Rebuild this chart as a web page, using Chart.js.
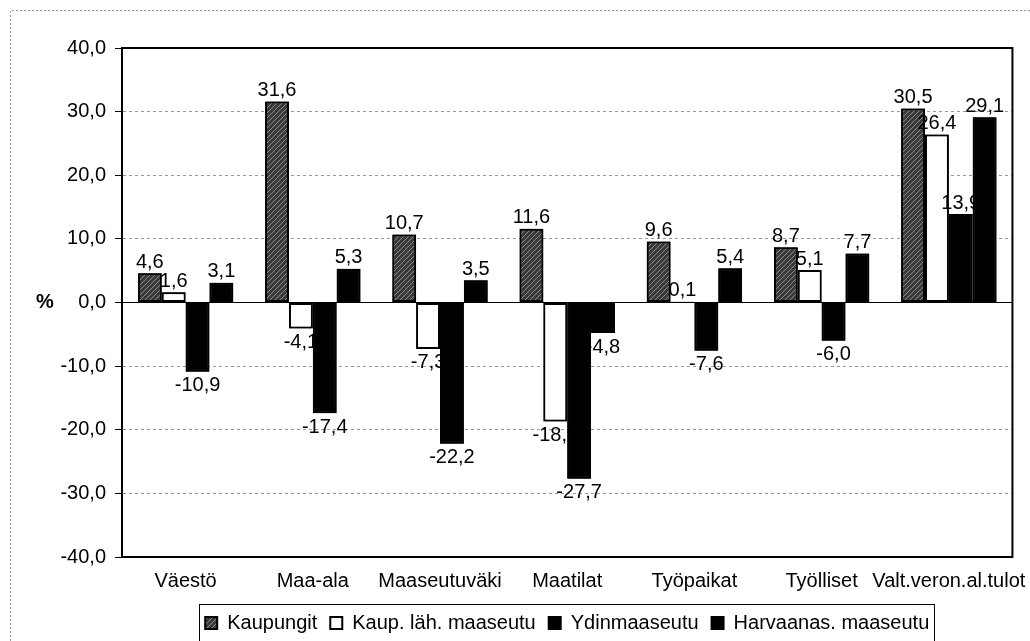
<!DOCTYPE html>
<html>
<head>
<meta charset="utf-8">
<script src="https://cdn.jsdelivr.net/npm/chart.js@4/dist/chart.umd.min.js"></script>
<style>
  html, body { margin: 0; padding: 0; background: #fff; }
  #wrap { width: 1030px; height: 641px; }
</style>
</head>
<body>
<div id="wrap"><canvas id="chart" width="1030" height="641"></canvas></div>
<script>
const categories = ['Väestö', 'Maa-ala', 'Maaseutuväki', 'Maatilat', 'Työpaikat', 'Työlliset', 'Valt.veron.al.tulot'];
const seriesNames = ['Kaupungit', 'Kaup. läh. maaseutu', 'Ydinmaaseutu', 'Harvaanas. maaseutu'];
const kaupungit = [4.6, 31.6, 10.7, 11.6, 9.6, 8.7, 30.5];
const kaupLah = [1.6, -4.1, -7.3, -18.7, 0.1, 5.1, 26.4];
const ydin = [-10.9, -17.4, -22.2, -27.7, -7.6, -6.0, 13.9];
const harva = [3.1, 5.3, 3.5, -4.8, 5.4, 7.7, 29.1];
const yTicks = [-40, -30, -20, -10, 0, 10, 20, 30, 40];

const FONT = '"Liberation Sans", Arial, sans-serif';
Chart.defaults.font.family = FONT;
Chart.defaults.color = '#000';

const fmt = v => v.toFixed(1).replace('.', ',');

// dark hatched fill for Kaupungit
function hatch() {
  const c = document.createElement('canvas');
  c.width = 5; c.height = 5;
  const g = c.getContext('2d');
  g.fillStyle = '#3a3a3a';
  g.fillRect(0, 0, 5, 5);
  g.strokeStyle = '#8c8c8c';
  g.lineWidth = 1;
  g.beginPath();
  g.moveTo(0, 5); g.lineTo(5, 0);
  g.moveTo(-1, 1); g.lineTo(1, -1);
  g.moveTo(4, 6); g.lineTo(6, 4);
  g.stroke();
  return g.createPattern(c, 'repeat');
}

// each series: bars, then its labels, so later series cover earlier labels
const labelPlugin = {
  id: 'labels',
  afterDatasetsDraw(chart) {
    const ctx = chart.ctx;
    chart.data.datasets.forEach((ds, i) => {
      const meta = chart.getDatasetMeta(i);
      meta.controller.draw();
      ctx.save();
      ctx.font = '20px ' + FONT;
      ctx.fillStyle = '#000';
      ctx.textAlign = 'center';
      meta.data.forEach((bar, k) => {
        const v = ds.data[k];
        if (v >= 0) {
          ctx.textBaseline = 'bottom';
          ctx.fillText(fmt(v), bar.x, bar.y - 1);
        } else {
          ctx.textBaseline = 'top';
          ctx.fillText(fmt(v), bar.x, bar.y + 4);
        }
      });
      ctx.restore();
    });
  }
};

const framePlugin = {
  id: 'frame',
  afterLayout(chart) {
    // centre the legend under the plot area instead of the whole canvas
    const lg = chart.legend;
    const a = chart.chartArea;
    const dx = (a.left + a.right) / 2 - (lg.left + lg.right) / 2;
    lg.left += dx;
    lg.right += dx;
    (lg.legendHitBoxes || []).forEach(h => { h.left += dx; });
  },
  afterDraw(chart) {
    const ctx = chart.ctx;
    const a = chart.chartArea;
    ctx.save();
    // plot box
    ctx.strokeStyle = '#000';
    ctx.lineWidth = 2;
    ctx.strokeRect(a.left, a.top, a.right - a.left, a.bottom - a.top);
    // outer dotted frame
    ctx.strokeStyle = '#999';
    ctx.lineWidth = 1;
    ctx.setLineDash([2, 2]);
    ctx.beginPath();
    ctx.moveTo(10.5, 641); ctx.lineTo(10.5, 10.5); ctx.lineTo(1030, 10.5);
    ctx.stroke();
    ctx.setLineDash([]);
    // legend box
    const hb = chart.legend.legendHitBoxes;
    if (hb && hb.length) {
      const l = hb[0].left - 6;
      const r = hb[hb.length - 1].left + hb[hb.length - 1].width + 5;
      const t = hb[0].top - 9;
      const b = hb[0].top + hb[0].height + 12;
      ctx.strokeStyle = '#000';
      ctx.strokeRect(Math.round(l) + 0.5, Math.round(t) + 0.5, Math.round(r - l), Math.round(b - t));
    }
    // % axis title
    ctx.font = 'bold 20px ' + FONT;
    ctx.fillStyle = '#000';
    ctx.textAlign = 'center';
    ctx.textBaseline = 'middle';
    ctx.fillText('%', 45, chart.scales.y.getPixelForValue(0));
    ctx.restore();
  }
};

const common = { borderColor: '#000', borderWidth: 2, borderSkipped: false, categoryPercentage: 0.75, barPercentage: 1.0 };

new Chart(document.getElementById('chart'), {
  type: 'bar',
  data: {
    labels: categories,
    datasets: [
      { label: seriesNames[0], data: kaupungit, backgroundColor: hatch(), ...common },
      { label: seriesNames[1], data: kaupLah, backgroundColor: '#fff', ...common },
      { label: seriesNames[2], data: ydin, backgroundColor: '#000', ...common },
      { label: seriesNames[3], data: harva, backgroundColor: '#000', ...common }
    ]
  },
  options: {
    responsive: false,
    animation: false,
    layout: { padding: { left: 0, right: 9, top: 48, bottom: -2 } },
    plugins: {
      legend: {
        position: 'bottom',
        labels: {
          boxWidth: 12,
          boxHeight: 12,
          padding: 13,
          font: { size: 20 },
          color: '#000'
        }
      },
      tooltip: { enabled: false }
    },
    scales: {
      x: {
        grid: { display: false },
        border: { display: true, color: '#000', width: 2 },
        ticks: { font: { size: 20 }, color: '#000', padding: 4, maxRotation: 0, autoSkip: false },
        afterFit: s => { s.height = 43; }
      },
      y: {
        min: -40,
        max: 40,
        afterBuildTicks: s => { s.ticks = yTicks.map(v => ({ value: v })); },
        ticks: { font: { size: 20 }, color: '#000', padding: 9, callback: v => fmt(v) },
        grid: {
          color: c => (c.tick && c.tick.value === 0) ? '#000' : '#999',
          lineWidth: 1,
          tickLength: 7,
          tickColor: '#000'
        },
        border: {
          display: true, color: '#000', width: 2,
          dash: c => (c.tick && c.tick.value === 0) ? [] : [3, 3]
        },
        afterFit: s => { s.width = 122; }
      }
    }
  },
  plugins: [labelPlugin, framePlugin]
});
</script>
</body>
</html>
